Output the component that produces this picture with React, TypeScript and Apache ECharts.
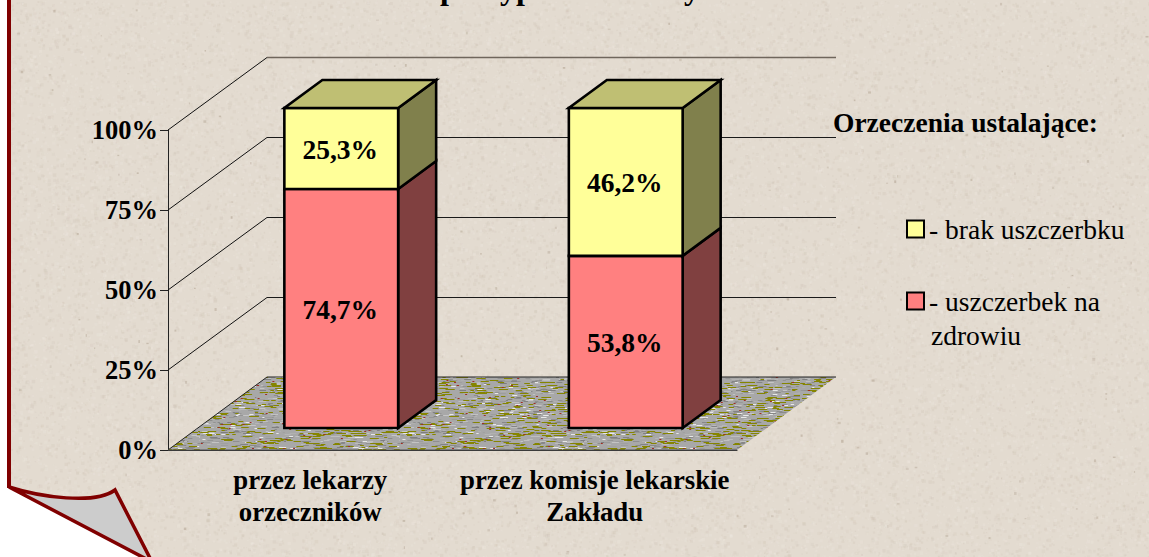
import React, { useEffect, useRef } from "react";
import * as echarts from "echarts";

const categories = ["przez lekarzy\norzeczników", "przez komisje lekarskie\nZakładu"];
const harmValues = [74.7, 53.8];
const noHarmValues = [25.3, 46.2];
const yTicks = [0, 25, 50, 75, 100];
const harmName = "- uszczerbek na";
const noHarmName = "- brak uszczerbku";
const legendTitle = "Orzeczenia ustalające:";
const legendContinuation = "zdrowiu";
const titleFragments = [
  { text: "p", x: 449 },
  { text: "yp", x: 517 },
  { text: "y", x: 692 },
];

const FONT = '"Liberation Serif", "Times New Roman", serif';
const DEPTH = [99, -73];
const BAR_FRONT = [31, -22];
const BAR_SIDE = [38, -28];

function lcg(seed: number) {
  let s = seed >>> 0;
  return () => {
    s = (Math.imul(s, 1664525) + 1013904223) >>> 0;
    return s / 4294967296;
  };
}

function paperTexture() {
  const c = document.createElement("canvas");
  c.width = 1149;
  c.height = 557;
  const g = c.getContext("2d")!;
  g.fillStyle = "#e3dbd0";
  g.fillRect(0, 0, c.width, c.height);
  const r = lcg(77);
  for (let i = 0; i < 40000; i++) {
    const x = r() * c.width;
    const y = r() * c.height;
    const s = 1 + r() * 2.5;
    const dark = r() < 0.5;
    g.fillStyle = dark ? `rgba(205,193,178,${0.08 + r() * 0.18})` : `rgba(238,232,224,${0.1 + r() * 0.22})`;
    g.fillRect(x, y, s, s);
  }
  for (let i = 0; i < 220; i++) {
    g.fillStyle = `rgba(175,160,142,${0.25 + r() * 0.3})`;
    g.fillRect(r() * c.width, r() * c.height, 1 + r() * 2, 1 + r() * 2);
  }
  return c.toDataURL();
}

function floorTexture() {
  const c = document.createElement("canvas");
  c.width = 200;
  c.height = 100;
  const g = c.getContext("2d")!;
  g.fillStyle = "#a8a8a8";
  g.fillRect(0, 0, 200, 100);
  const r = lcg(31);
  for (let i = 0; i < 1400; i++) {
    const v = 125 + Math.floor(r() * 75);
    g.fillStyle = `rgb(${v},${v},${v})`;
    g.fillRect(r() * 200, Math.floor(r() * 100), 2 + r() * 6, 1);
  }
  for (let i = 0; i < 150; i++) {
    g.fillStyle = "#e8e8e8";
    g.fillRect(r() * 200, Math.floor(r() * 100), 2 + r() * 4, 1);
  }
  for (let i = 0; i < 520; i++) {
    g.fillStyle = "#858500";
    g.fillRect(r() * 200, Math.floor(r() * 100), 3 + r() * 7, 1);
  }
  for (let i = 0; i < 90; i++) {
    g.fillStyle = "#a02c24";
    g.fillRect(r() * 200, Math.floor(r() * 100), 2, 1);
  }
  return c;
}

echarts.graphic.registerShape(
  "pageFold",
  echarts.graphic.extendPath("M9 487 C40 497 95 505 115 490 L152 562 Z", {})
);

function floorItem(texture: HTMLCanvasElement) {
  return (_p: any, api: any) => {
    const [x, y] = api.coord([0, 0]);
    const band = api.size([1, 0])[0];
    const left = x - band / 2;
    const right = x + band * 1.5;
    const a = [left, y];
    const b = [left + DEPTH[0], y + DEPTH[1]];
    const c = [right + DEPTH[0], y + DEPTH[1]];
    const d = [right, y];
    return {
      type: "group",
      children: [
        { type: "polygon", shape: { points: [a, b, c, d] }, style: { fill: { image: texture, repeat: "repeat" } } },
        { type: "polyline", shape: { points: [a, b, c] }, style: { fill: "none", stroke: "#222", lineWidth: 1 } },
        { type: "line", shape: { x1: a[0], y1: a[1], x2: d[0], y2: d[1] }, style: { stroke: "#555", lineWidth: 1.2 } },
      ],
    };
  };
}

function gridItem(_p: any, api: any) {
  const t = api.value(1);
  const [x, y] = api.coord([0, t]);
  const band = api.size([1, 0])[0];
  const left = x - band / 2;
  const right = x + band * 1.5;
  const bx = left + DEPTH[0];
  const by = Math.round(y + DEPTH[1]) + 0.5;
  if (t === 0) return { type: "group", children: [] };
  const isTop = t === yTicks[yTicks.length - 1];
  return {
    type: "group",
    children: [
      { type: "line", shape: { x1: left, y1: y, x2: bx, y2: by }, style: { stroke: "#111", lineWidth: 1 } },
      {
        type: "line",
        shape: { x1: bx, y1: by, x2: right + DEPTH[0], y2: by },
        style: { stroke: isTop ? "#6f665c" : "#1a1a1a", lineWidth: isTop ? 1.6 : 1 },
      },
    ],
  };
}

function barItem(front: string, side: string, top: string | null) {
  return (_p: any, api: any) => {
    const idx = api.value(0);
    const lo = api.value(1);
    const hi = api.value(2);
    const [cx, yLo] = api.coord([idx, lo]);
    const [, yHi] = api.coord([idx, hi]);
    const band = api.size([1, 0])[0];
    const w = band * 0.4;
    const x0 = cx - w / 2 + BAR_FRONT[0];
    const x1 = x0 + w;
    const y0 = yLo + BAR_FRONT[1];
    const y1 = yHi + BAR_FRONT[1];
    const [sx, sy] = BAR_SIDE;
    const edge = { stroke: "#000", lineWidth: 2.6, lineJoin: "miter" };
    const children: any[] = [
      {
        type: "polygon",
        shape: { points: [[x1, y0], [x1 + sx, y0 + sy], [x1 + sx, y1 + sy], [x1, y1]] },
        style: { fill: side, ...edge },
      },
      {
        type: "polygon",
        shape: { points: [[x0, y0], [x1, y0], [x1, y1], [x0, y1]] },
        style: { fill: front, ...edge },
      },
    ];
    if (top) {
      children.push({
        type: "polygon",
        shape: { points: [[x0, y1], [x1, y1], [x1 + sx, y1 + sy], [x0 + sx, y1 + sy]] },
        style: { fill: top, ...edge },
      });
    }
    children.push({
      type: "text",
      style: {
        x: (x0 + x1) / 2 - 1,
        y: (y0 + y1) / 2 + 1,
        text: String(Math.round((hi - lo) * 10) / 10).replace(".", ",") + "%",
        align: "center",
        verticalAlign: "middle",
        font: `bold 27.5px ${FONT}`,
        fill: "#000",
      },
    });
    return { type: "group", children };
  };
}

export default function App() {
  const ref = useRef<HTMLDivElement>(null);
  useEffect(() => {
    document.body.style.margin = "0";
    const el = ref.current!;
    el.style.backgroundImage = `url(${paperTexture()})`;
    const chart = echarts.init(el, undefined, { renderer: "svg" });
    const texture = floorTexture();
    const harmData = harmValues.map((v, i) => [i, 0, v]);
    const noHarmData = noHarmValues.map((v, i) => [i, harmValues[i], harmValues[i] + v]);
    chart.setOption({
      animation: false,
      backgroundColor: "transparent",
      grid: { left: 168, top: 130, width: 569, height: 320, containLabel: false },
      xAxis: {
        type: "category",
        data: categories,
        axisLine: { lineStyle: { color: "#222", width: 1 } },
        axisTick: { length: 8, lineStyle: { color: "#222" } },
        axisLabel: { margin: 14, lineHeight: 32, color: "#000", fontFamily: FONT, fontWeight: "bold", fontSize: 26.8, interval: 0 },
      },
      yAxis: {
        type: "value",
        min: 0,
        max: 100,
        interval: 25,
        splitLine: { show: false },
        axisLine: { show: true, lineStyle: { color: "#222", width: 1 } },
        axisTick: { show: true, length: 8, lineStyle: { color: "#222" } },
        axisLabel: { margin: 10, color: "#000", fontFamily: FONT, fontWeight: "bold", fontSize: 26.5, formatter: "{value}%" },
      },
      legend: {
        orient: "vertical",
        left: 906,
        top: 215,
        padding: 0,
        icon: "rect",
        itemWidth: 17,
        itemHeight: 17,
        itemGap: 44,
        data: [noHarmName, harmName],
        selectedMode: false,
        textStyle: { fontFamily: FONT, fontSize: 27.5, color: "#000" },
      },
      graphic: [
        { type: "polygon", silent: true, shape: { points: [[0, 0], [8, 0], [8, 487], [152, 560], [0, 560]] }, style: { fill: "#ffffff" } },
        { type: "line", silent: true, shape: { x1: 9, y1: 0, x2: 9, y2: 488 }, style: { stroke: "#800000", lineWidth: 4 } },
        { type: "pageFold", silent: true, style: { fill: "#cccccc", stroke: "#800000", lineWidth: 3.5 } },
        { type: "text", silent: true, style: { x: 833, y: 122, text: legendTitle, font: `bold 27.5px ${FONT}`, fill: "#000", verticalAlign: "middle" } },
        { type: "text", silent: true, style: { x: 931, y: 335, text: legendContinuation, font: `27.5px ${FONT}`, fill: "#000", verticalAlign: "middle" } },
        ...titleFragments.map((f) => ({
          type: "text",
          silent: true,
          style: { x: f.x, y: 4, text: f.text, align: "center", verticalAlign: "bottom", font: `bold 32px ${FONT}`, fill: "#000" },
        })),
      ],
      series: [
        { type: "custom", name: "floor", data: [[0, 0]], encode: { x: 0, y: 1 }, renderItem: floorItem(texture), silent: true },
        { type: "custom", name: "grid", data: yTicks.map((t) => [0, t]), encode: { x: 0, y: 1 }, renderItem: gridItem, silent: true },
        {
          type: "custom",
          name: harmName,
          data: harmData,
          encode: { x: 0, y: 2 },
          renderItem: barItem("#ff8080", "#804040", null),
          itemStyle: { color: "#ff8080", borderColor: "#000", borderWidth: 2 },
        },
        {
          type: "custom",
          name: noHarmName,
          data: noHarmData,
          encode: { x: 0, y: 2 },
          renderItem: barItem("#ffff99", "#80804c", "#bfbf73"),
          itemStyle: { color: "#ffff99", borderColor: "#000", borderWidth: 2 },
        },
      ],
    });
    return () => chart.dispose();
  }, []);
  return <div ref={ref} style={{ position: "absolute", left: 0, top: 0, width: 1149, height: 557, overflow: "hidden" }} />;
}
